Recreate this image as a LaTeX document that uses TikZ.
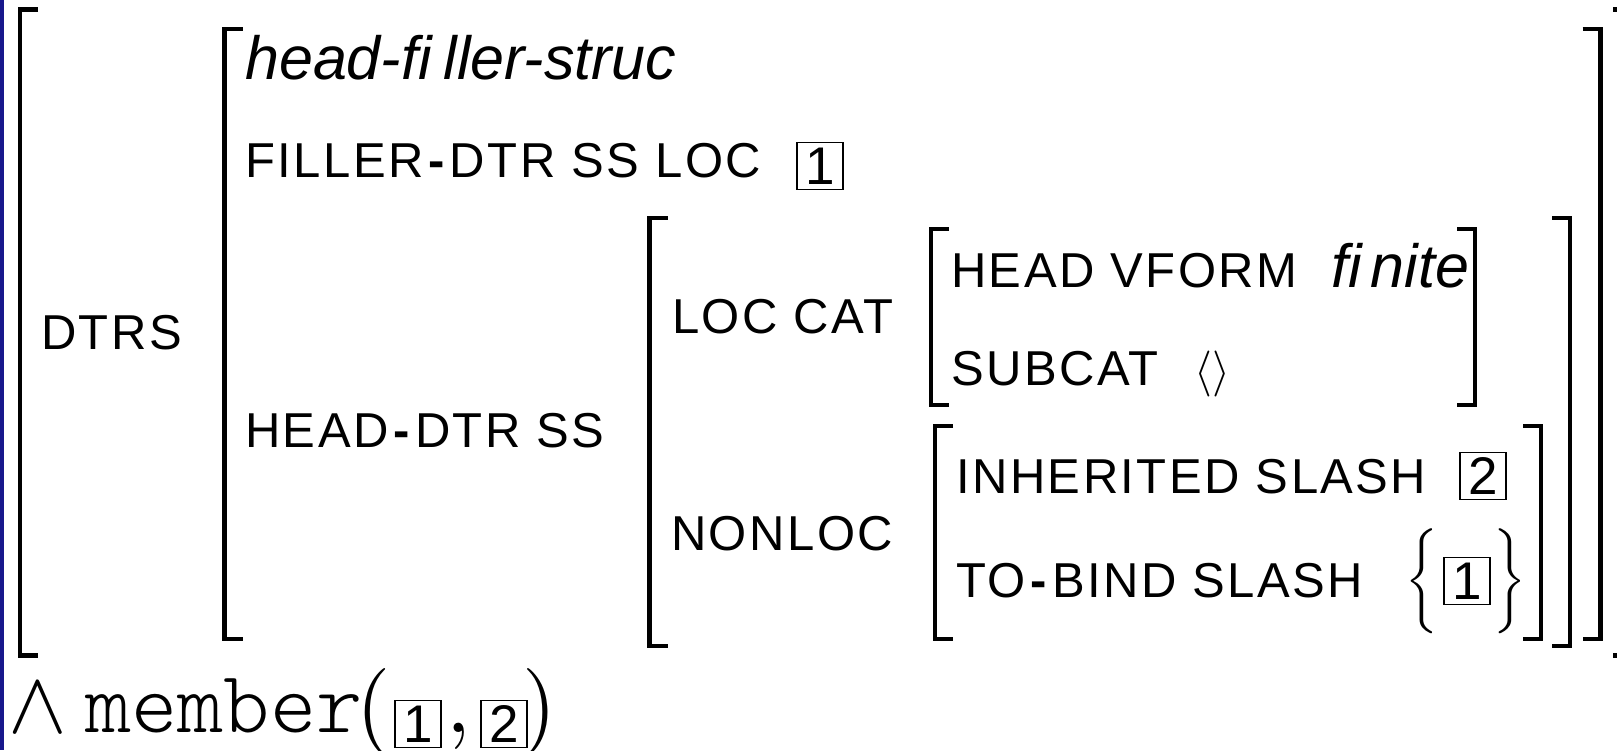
\documentclass[tikz,border=0pt]{standalone}
\usepackage{graphicx}
\usepackage[no-math]{fontspec}
\newfontfamily\avmsans{Liberation Sans}[LetterSpace=5]
\newfontfamily\avmital{Liberation Sans}
\newfontfamily\tagsans{Liberation Sans}
\newfontfamily\relfont{lmmonolt10-regular}[Extension=.otf]
\definecolor{edgeblue}{RGB}{24,24,140}
% spaced, heavy hyphen inside attribute names
\newcommand\hy{\hspace{5pt}{\bfseries -}\hspace{5pt}}
% math symbol set at 10pt and enlarged
\newcommand\bigmath[2]{\scalebox{#1}{\normalsize$#2$}}
\tikzset{
  bar/.style={line width=4.3pt},
  feat/.style={anchor=base west, inner sep=0pt, font=\avmsans\fontsize{49}{59}\selectfont},
  sortname/.style={anchor=base west, inner sep=0pt, font=\avmital\itshape\fontsize{61}{72}\selectfont},
  tagbox/.style={draw, line width=1.8pt, minimum width=46pt, minimum height=47pt, inner sep=0pt,
                 font=\tagsans\fontsize{53}{60}\selectfont},
  delim/.style={inner sep=0pt, anchor=center},
  relation/.style={anchor=base west, inner sep=0pt},
}
\begin{document}
\begin{tikzpicture}[x=1pt,y=-1pt]
\useasboundingbox (0,0) rectangle (1617,750);
\fill[edgeblue] (0,0) rectangle (3.5,750);

% brackets of the feature structure
\begin{scope}
\clip (0,0) rectangle (1617,750);
\draw[bar] (38,9.5) -- (20,9.5) -- (20,655.5) -- (38,655.5);
\draw[bar] (1613,9.5) -- (1631,9.5) -- (1631,655.5) -- (1613,655.5);
\draw[bar] (242.5,29) -- (224.5,29) -- (224.5,639) -- (242.5,639);
\draw[bar] (1582.5,29) -- (1600.5,29) -- (1600.5,639) -- (1582.5,639);
\draw[bar] (667.5,218) -- (649.5,218) -- (649.5,646) -- (667.5,646);
\draw[bar] (1552,218) -- (1570,218) -- (1570,646) -- (1552,646);
\draw[bar] (949,229) -- (931,229) -- (931,405) -- (949,405);
\draw[bar] (1457,229) -- (1475,229) -- (1475,405) -- (1457,405);
\draw[bar] (953,426) -- (935,426) -- (935,639) -- (953,639);
\draw[bar] (1523,426) -- (1541,426) -- (1541,639) -- (1523,639);
\end{scope}

% features and values
\node[feat] (dtrs) at (41,349) {DTRS};
\node[sortname] (sort) at (245,79) {head-fi\hspace{12pt}ller-struc};
\node[feat] (filler) at (245,177) {FILLER\hy DTR SS LOC};
\node[tagbox] (tagA) at (820,166) {1};
\node[feat] (headdtr) at (245,447) {HEAD\hy DTR SS};
\node[feat] (loccat) at (672,333) {LOC CAT};
\node[feat] (vform) at (951,287) {HEAD VFORM};
\node[sortname] (finite) at (1331,287) {fi\hspace{9pt}nite};
\node[feat] (subcat) at (951,385) {SUBCAT};
\node[anchor=base west, inner sep=0pt] (empty) at (1194,385) {\bigmath{4.6}{\langle\rangle}};
\node[feat] (nonloc) at (671,550) {NONLOC};
\node[feat] (inher) at (956,493) {INHERITED SLASH};
\node[tagbox] (tagB) at (1483,476) {2};
\node[feat] (tobind) at (956,597) {TO\hy BIND SLASH};
\node[delim] (setL) at (1422,581) {\bigmath{4.375}{\biggl\{}};
\node[tagbox] (tagC) at (1467,581) {1};
\node[delim] (setR) at (1510,581) {\bigmath{4.375}{\biggr\}}};

% relational constraint
\node[relation] (wedge) at (8,732) {\bigmath{8.8}{\wedge}};
\node[relation, font=\relfont\fontsize{88}{100}\selectfont] (member) at (85,732) {member};
\node[relation] (openp) at (356,734) {\bigmath{8.8}{(}};
\node[tagbox] (argA) at (418,724) {1};
\node[relation] (comma) at (446,732) {\bigmath{8.8}{,}};
\node[tagbox] (argB) at (504,724) {2};
\node[relation] (closep) at (522,734) {\bigmath{8.8}{)}};
\end{tikzpicture}
\end{document}
